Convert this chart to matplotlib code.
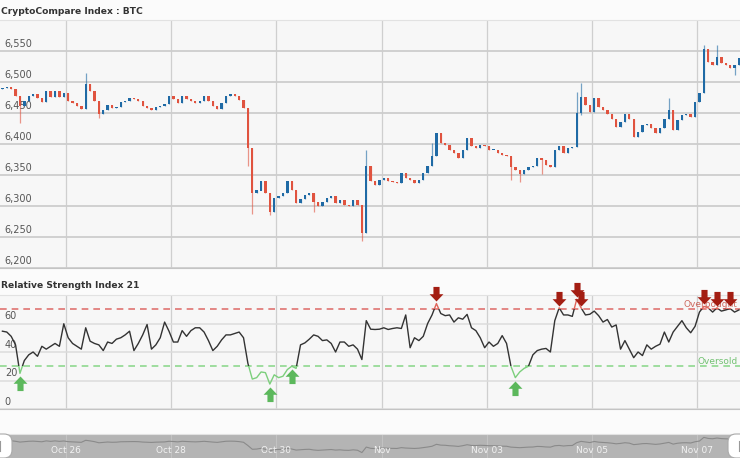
import datetime as dt

import matplotlib
matplotlib.use('Agg')
import matplotlib.dates as mdates
import matplotlib.pyplot as plt
import matplotlib.transforms as mtransforms
from matplotlib.patches import FancyBboxPatch, Rectangle
from matplotlib.path import Path
from matplotlib.lines import Line2D

# 2-hour BTC candles, Oct 24 19:00 .. Nov 7 19:00 (close values)
closes = [6490, 6492, 6488, 6477, 6462, 6470, 6477, 6480, 6474, 6468,
          6485, 6476, 6485, 6476, 6483, 6470, 6466, 6462, 6457, 6497,
          6485, 6470, 6448, 6455, 6463, 6458, 6460, 6468, 6470, 6474,
          6472, 6470, 6462, 6458, 6455, 6460, 6462, 6465, 6477, 6473,
          6466, 6477, 6472, 6469, 6466, 6470, 6477, 6469, 6462, 6456,
          6466, 6478, 6480, 6478, 6471, 6458, 6394, 6321, 6325, 6340,
          6321, 6291, 6313, 6316, 6321, 6340, 6326, 6305, 6312, 6318,
          6321, 6307, 6300, 6306, 6313, 6316, 6305, 6310, 6302, 6300,
          6310, 6302, 6256, 6364, 6340, 6334, 6342, 6345, 6340, 6338,
          6337, 6353, 6345, 6342, 6337, 6342, 6353, 6365, 6380, 6418,
          6402, 6399, 6390, 6385, 6377, 6391, 6410, 6396, 6394, 6399,
          6396, 6390, 6390, 6385, 6382, 6380, 6363, 6358, 6352, 6358,
          6363, 6365, 6377, 6374, 6366, 6363, 6390, 6396, 6385, 6393,
          6395, 6450, 6476, 6463, 6452, 6474, 6460, 6455, 6449, 6440,
          6428, 6436, 6449, 6441, 6412, 6420, 6431, 6433, 6425, 6417,
          6425, 6440, 6455, 6422, 6439, 6447, 6449, 6444, 6468, 6482,
          6554, 6533, 6527, 6541, 6530, 6527, 6522, 6528, 6538]
first_open = 6488
wick_highs = {19: 6514, 83: 6391, 98: 6402, 131: 6484, 132: 6498, 152: 6474,
              160: 6560, 163: 6560}
wick_lows = {4: 6434, 22: 6442, 56: 6364, 57: 6287, 61: 6285, 71: 6290, 82: 6243,
             116: 6342, 118: 6339, 123: 6352, 132: 6447, 167: 6512}

rsi = [54.6, 54, 51, 45, 25, 34, 38, 40, 37, 44,
       42, 44, 46, 44, 59.8, 50, 46, 44, 42, 57,
       47.6, 46, 45, 41, 47, 46, 49, 50, 52, 54.6,
       41, 46, 52, 59.3, 42, 45, 50, 61, 54.6, 47,
       47, 55, 51, 55, 57, 57, 54, 48, 41, 44,
       48.5, 52, 52, 53, 54, 50, 32, 21, 22, 26,
       25.5, 17.5, 24, 22, 23, 27.7, 30, 28.5, 45, 46.4,
       49, 52, 51, 48, 48.5, 46, 40, 47, 47, 44,
       45, 42, 34.7, 62, 56, 55.8, 56, 57, 55.8, 56.5,
       57, 56.5, 66, 43, 50, 48, 51, 60, 66, 74,
       67, 65.5, 66, 61, 64, 63, 66.4, 57, 55, 50,
       43, 47, 44, 46, 51.5, 46, 30, 22, 26, 28.5,
       30, 38, 41, 42, 42.5, 40, 62, 71, 66, 66,
       65, 77, 71, 66, 66.5, 68.7, 65.5, 61, 62.8, 57.5,
       59, 42, 48, 42, 36, 40, 37.5, 45, 42, 44,
       45.5, 54, 47, 54, 58, 62, 57, 53.5, 58, 68,
       72, 71, 68, 71, 68.7, 69.5, 70.5, 68, 69.5]
overbought_marks = [99, 127, 131, 132, 160, 163, 166]
oversold_marks = [4, 61, 66, 117]

day_ticks = [dt.datetime(2018, 10, 26), dt.datetime(2018, 10, 28), dt.datetime(2018, 10, 30),
             dt.datetime(2018, 11, 1), dt.datetime(2018, 11, 3), dt.datetime(2018, 11, 5),
             dt.datetime(2018, 11, 7)]
day_labels = ['Oct 26', 'Oct 28', 'Oct 30', 'Nov', 'Nov 03', 'Nov 05', 'Nov 07']
price_ticks = [6200, 6250, 6300, 6350, 6400, 6450, 6500, 6550]
rsi_ticks = [0, 20, 40, 60]

start = dt.datetime(2018, 10, 24, 19)
x = mdates.date2num([start + dt.timedelta(hours=2 * i) for i in range(len(closes))])
opens = [first_open] + closes[:-1]
xlim = (mdates.date2num(dt.datetime(2018, 10, 24, 17, 54)),
        mdates.date2num(dt.datetime(2018, 11, 7, 19, 30)))
tick_nums = mdates.date2num(day_ticks)

up_color = '#1f6aa5'
down_color = '#e0533f'
bg = '#f7f7f7'

fig = plt.figure(figsize=(7.4, 4.58), dpi=100, facecolor='#fbfbfb')
ax_p = fig.add_axes([0, 1 - 268 / 458, 1, 248 / 458], facecolor=bg)
ax_r = fig.add_axes([0, 1 - 409 / 458, 1, 114 / 458], facecolor=bg)
ax_n = fig.add_axes([0, 0, 1, 24 / 458], facecolor='#b4b4b4')

for ax in (ax_p, ax_r, ax_n):
    ax.set_xlim(xlim)
    ax.set_xticks(tick_nums)
    ax.tick_params(length=0, labelbottom=False, labelleft=False)
    for side in ('left', 'right'):
        ax.spines[side].set_visible(False)
    ax.spines['top'].set_color('#e2e2e2')
    ax.spines['bottom'].set_color('#c4c4c4')
    ax.set_axisbelow(True)

# price panel
ax_p.set_ylim(6200, 6600)
ax_p.set_yticks(price_ticks)
ax_p.grid(axis='x', color='#cfcfcf', lw=0.9)
ax_p.grid(axis='y', color='#cdcdcd', lw=1.3)
for v in price_ticks:
    ax_p.annotate('{:,}'.format(v), xy=(0, v), xycoords=('axes fraction', 'data'),
                  xytext=(3.5, 1.5), textcoords='offset points', fontsize=7,
                  color='#555555', va='bottom', zorder=1)

body_w = 0.045
for i in range(len(closes)):
    o, c = opens[i], closes[i]
    col = up_color if c >= o else down_color
    hi = wick_highs.get(i, max(o, c))
    lo = wick_lows.get(i, min(o, c))
    ax_p.vlines(x[i], lo, hi, color=col, lw=0.9, alpha=0.6, zorder=3)
    h = max(abs(c - o), 1.5)
    ax_p.bar(x[i], h, bottom=min(o, c), width=body_w, color=col, lw=0, zorder=4)

fig.text(0.002, 1 - 12 / 458, 'CryptoCompare Index : BTC', fontsize=6.6, weight='bold',
         color='#333333', va='center')
fig.text(0.002, 1 - 286 / 458, 'Relative Strength Index 21', fontsize=6.6, weight='bold',
         color='#333333', va='center')

# RSI panel
ax_r.set_ylim(0, 80)
ax_r.set_yticks(rsi_ticks)
ax_r.grid(axis='x', color='#cfcfcf', lw=0.9)
ax_r.grid(axis='y', color='#dcdcdc', lw=1.1)
for v in rsi_ticks:
    ax_r.annotate(str(v), xy=(0, v), xycoords=('axes fraction', 'data'),
                  xytext=(3.5, 1.5), textcoords='offset points', fontsize=7,
                  color='#555555', va='bottom', zorder=1)
ax_r.axhline(70, color='#d9534f', ls=(0, (4, 3)), lw=1.2, alpha=0.8, zorder=2)
ax_r.axhline(30, color='#8fd88f', ls=(0, (4, 3)), lw=1.2, zorder=2)
blend = mtransforms.blended_transform_factory(ax_r.transAxes, ax_r.transData)
ax_r.text(0.997, 70.5, 'Overbought', transform=blend, ha='right', va='bottom',
          fontsize=6.5, color='#c0392b', alpha=0.75, zorder=4)
ax_r.text(0.997, 30.5, 'Oversold', transform=blend, ha='right', va='bottom',
          fontsize=6.5, color='#5cb85c', alpha=0.85, zorder=4)

width = xlim[1] - xlim[0]
for color, y0, h in (('#333333', 30, 40), ('#e06459', 70, 200), ('#7ccf7c', -200, 230)):
    ln, = ax_r.plot(x, rsi, color=color, lw=1, zorder=3)
    ln.set_clip_path(Rectangle((xlim[0], y0), width, h, transform=ax_r.transData))

down_arrow = Path([(0, 0), (0.95, 1.0), (0.42, 1.0), (0.42, 2), (-0.42, 2), (-0.42, 1.0),
                   (-0.95, 1.0), (0, 0)])
up_arrow = Path([(0, 0), (0.95, -1.0), (0.42, -1.0), (0.42, -2), (-0.42, -2), (-0.42, -1.0),
                 (-0.95, -1.0), (0, 0)])
ax_r.plot(x[overbought_marks], [rsi[i] + 1.5 for i in overbought_marks], ls='none',
          marker=down_arrow, ms=21, color='#a31d12', mec='none', zorder=5, clip_on=False)
ax_r.plot(x[oversold_marks], [rsi[i] - 2 for i in oversold_marks], ls='none',
          marker=up_arrow, ms=21, color='#5cb85c', mec='none', zorder=5, clip_on=False)

# navigator
ax_n.set_ylim(6150, 6620)
ax_n.set_yticks([])
ax_n.grid(axis='x', color='#c2c2c2', lw=0.8)
ax_n.plot(x, closes, color='#8a8a8a', lw=0.8)
nblend = mtransforms.blended_transform_factory(ax_n.transData, ax_n.transAxes)
for t, lab in zip(tick_nums, day_labels):
    ax_n.text(t, 0.33, lab, transform=nblend, ha='center', va='center', fontsize=6.5,
              color='#f2f2f2')
for left in (-8, 728):
    fig.patches.append(FancyBboxPatch((left, 0), 20, 24,
                                      boxstyle='round,pad=0,rounding_size=8',
                                      transform=mtransforms.IdentityTransform(),
                                      fc='white', ec='#aaaaaa', lw=0.8))
    mid = left + 10 + (-6 if left < 0 else -3)
    fig.lines.append(Line2D([mid + 4, mid + 4], [7, 17], transform=mtransforms.IdentityTransform(),
                            color='#999999', lw=0.8))

fig.savefig('out.png', dpi=100, facecolor=fig.get_facecolor())
